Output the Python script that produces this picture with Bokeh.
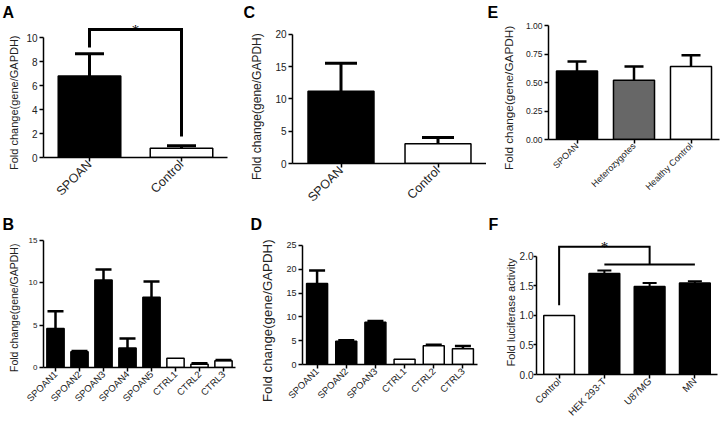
import math
from bokeh.plotting import figure
from bokeh.layouts import row, column
from bokeh.models import FixedTicker, NumeralTickFormatter, Range1d, FactorRange, Title
from bokeh.embed import file_html
from bokeh.resources import INLINE

FONT = "Liberation Sans"

# ---------------- data ----------------
a_groups = ["SPOAN", "Control"]
a_means = [6.8, 0.78]
a_errs = [1.85, 0.19]
a_fills = ["black", "white"]
a_bracket_y = [9.17, 10.67, 1.75]   # left foot, top, right foot
a_star_y = 10.6

b_groups = ["SPOAN1", "SPOAN2", "SPOAN3", "SPOAN4", "SPOAN5", "CTRL1", "CTRL2", "CTRL3"]
b_means = [4.62, 1.85, 10.34, 2.29, 8.29, 1.1, 0.39, 0.79]
b_errs = [2.01, 0.1, 1.23, 1.14, 1.86, 0.0, 0.12, 0.11]
b_fills = ["black"] * 5 + ["white"] * 3

c_groups = ["SPOAN", "Control"]
c_means = [11.2, 3.05]
c_errs = [4.35, 0.98]
c_fills = ["black", "white"]

d_groups = ["SPOAN1", "SPOAN2", "SPOAN3", "CTRL1", "CTRL2", "CTRL3"]
d_means = [17.0, 4.9, 8.9, 1.1, 3.95, 3.3]
d_errs = [2.75, 0.2, 0.25, 0.0, 0.2, 0.6]
d_fills = ["black"] * 3 + ["white"] * 3

e_groups = ["SPOAN", "Heterozygotes", "Healthy Control"]
e_means = [0.60, 0.52, 0.64]
e_errs = [0.085, 0.12, 0.10]
e_fills = ["black", "#676767", "white"]

f_groups = ["Control", "HEK 293-T", "U87MG", "MN"]
f_means = [1.0, 1.71, 1.49, 1.55]
f_errs = [0.0, 0.05, 0.06, 0.03]
f_fills = ["white", "black", "black", "black"]
f_bracket_y = [1.17, 2.16, 1.86]    # left foot, top, right foot / lower bar
f_star_y = 2.16

GENE_LABEL = "Fold change(gene/GAPDH)"
LUC_LABEL = "Fold luciferase activity"


def panel(groups, means, errs, fills, w, h, borders, y_rng, ticks, fmt,
          bar_w, cap, lw, ytick_fs, ytick_out, ytick_standoff, xtick_fs, letter, letter_off,
          ylabel, ylabel_fs, ylabel_off, ylabel_standoff, ylabel_valign):
    l, r, t, b = borders
    p = figure(x_range=FactorRange(*groups), y_range=Range1d(*y_rng),
               width=w, height=h, output_backend="svg", toolbar_location=None,
               min_border_left=l, min_border_right=r, min_border_top=t, min_border_bottom=b,
               frame_align=False)
    p.outline_line_color = None
    p.grid.visible = False
    p.background_fill_color = "white"
    p.border_fill_color = "white"

    p.vbar(x=groups, top=means, width=bar_w, fill_color=fills, line_color="black",
           line_width=1.5)
    eg = [g for g, e in zip(groups, errs) if e > 0]
    em = [m for m, e in zip(means, errs) if e > 0]
    et = [m + e for m, e in zip(means, errs) if e > 0]
    p.segment(x0=eg, y0=em, x1=eg, y1=et, line_color="black", line_width=lw,
              line_cap="butt")
    p.scatter(x=eg, y=et, marker="dash", size=cap, line_color="black", line_width=lw)

    ya = p.yaxis[0]
    ya.ticker = FixedTicker(ticks=ticks)
    ya.bounds = (ticks[0], ticks[-1])
    ya.minor_tick_line_color = None
    ya.major_tick_out = ytick_out
    ya.major_tick_in = 0
    ya.major_label_standoff = ytick_standoff
    ya.axis_line_width = 1.5
    ya.major_tick_line_width = 1.5
    ya.major_label_text_font = FONT
    ya.major_label_text_font_size = f"{ytick_fs}px"
    ya.major_label_text_color = "#222222"
    if fmt:
        ya.formatter = NumeralTickFormatter(format=fmt)

    xa = p.xaxis[0]
    xa.major_label_orientation = math.pi / 4
    xa.major_tick_out = 4
    xa.major_tick_in = 0
    xa.major_label_standoff = 1
    xa.axis_line_width = 1.5
    xa.major_tick_line_width = 1.5
    xa.major_label_text_font = FONT
    xa.major_label_text_font_size = f"{xtick_fs}px"
    xa.major_label_text_color = "#222222"

    # panel letter as the title
    p.title.text = letter
    p.title.align = "left"
    p.title.offset = letter_off
    p.title.standoff = 0
    p.title.text_font = FONT
    p.title.text_font_style = "bold"
    p.title.text_font_size = "16px"
    p.title.text_color = "black"

    # y-axis label as a left-side title (allows positioning along the axis)
    p.add_layout(Title(text=ylabel, align="left", offset=ylabel_off,
                       standoff=ylabel_standoff, vertical_align=ylabel_valign,
                       text_font=FONT, text_font_style="normal",
                       text_font_size=f"{ylabel_fs}px", text_color="#222222"), "left")
    return p


# row 1 frames start at y=20 px, row 2 frames at y=232 px
pA = panel(a_groups, a_means, a_errs, a_fills, 242, 212, (43, 15, 20, 55), (0, 11.417),
           [0, 2, 4, 6, 8, 10], None, 0.68, 29, 3, 10, 4, 2, 12.5,
           "A", -41, GENE_LABEL, 11, -12.5, 7, "bottom")
ia, ib = 0.5, 1.5
pA.line(x=[ia, ia, ib, ib], y=[a_bracket_y[0], a_bracket_y[1], a_bracket_y[1], a_bracket_y[2]],
        line_color="black", line_width=3, line_join="miter")
pA.text(x=[(ia + ib) / 2], y=[a_star_y], text=["*"], text_align="center",
        text_baseline="alphabetic", text_font_size="15px", text_font=FONT, text_color="black")

pC = panel(c_groups, c_means, c_errs, c_fills, 244, 212, (50, 0, 20, 49), (0, 22.17),
           [0, 5, 10, 15, 20], None, 0.68, 32, 3, 10, 4, 2, 12.5,
           "C", -49, GENE_LABEL, 12, -16.5, 13, "top")

pE = panel(e_groups, e_means, e_errs, e_fills, 234, 212, (62, 1, 20, 73), (0, 1.0439),
           [0, 0.25, 0.5, 0.75, 1.0], "0.00", 0.72, 19, 2.5, 8.5, 4, 2, 9,
           "E", -61, GENE_LABEL, 11.8, -30.5, 9, "top")

pB = panel(b_groups, b_means, b_errs, b_fills, 242, 212, (43, 7, 20, 57), (0, 15.945),
           [0, 5, 10, 15], None, 0.72, 16, 2.5, 8, 4, 2, 9.5,
           "B", -41, GENE_LABEL, 10.5, -4.5, 11, "bottom")

pD = panel(d_groups, d_means, d_errs, d_fills, 244, 212, (60, 9, 20, 60), (0, 27.73),
           [0, 5, 10, 15, 20, 25], None, 0.72, 16, 2.5, 9, 4, 2, 9.5,
           "D", -52, GENE_LABEL, 13.3, -37.5, 17, "bottom")

pF = panel(f_groups, f_means, f_errs, f_fills, 234, 212, (50, 3, 20, 49), (0, 2.403),
           [0, 0.5, 1.0, 1.5, 2.0], "0.0", 0.68, 14, 2, 10, 3, 0, 9.8,
           "F", -48, LUC_LABEL, 11, 8, 0, "bottom")
c0, c1, c2, c3 = 0.5, 1.5, 2.5, 3.5
pF.line(x=[c0, c0, c2, c2], y=[f_bracket_y[0], f_bracket_y[1], f_bracket_y[1], f_bracket_y[2]],
        line_color="black", line_width=2, line_join="miter")
pF.line(x=[c1, c3], y=[f_bracket_y[2], f_bracket_y[2]], line_color="black", line_width=2)
pF.text(x=[(c0 + c2) / 2], y=[f_star_y], text=["*"], text_align="center",
        text_baseline="alphabetic", text_font_size="15px", text_font=FONT, text_color="black")

layout = column(row(pA, pC, pE), row(pB, pD, pF))

open("out.html", "w").write(file_html(layout, INLINE))
